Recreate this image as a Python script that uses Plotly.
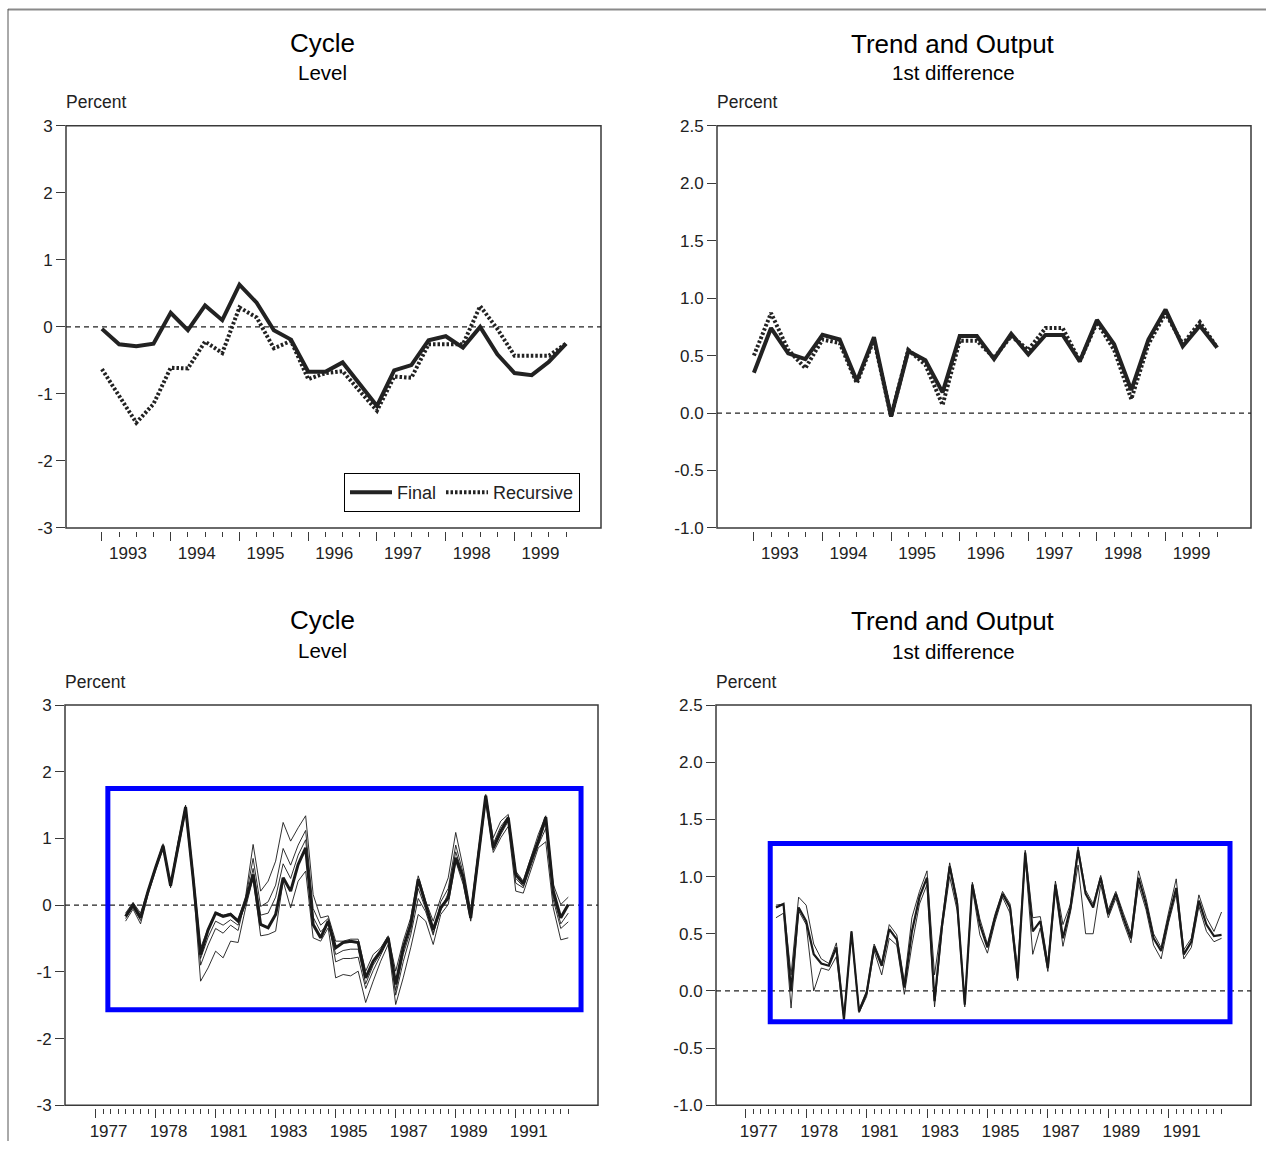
import plotly.graph_objects as go

# ---------------------------------------------------------------------------
# Data
# ---------------------------------------------------------------------------
TOP_YEARS = list(range(1993, 2000))          # 1993Q1 .. 1999Q4
BOTTOM_TICK_YEARS = list(range(1977, 1993))  # axis runs 1977Q1 .. 1992Q4
BOTTOM_DATA_YEARS = list(range(1978, 1993))  # estimates 1978Q1 .. 1992Q4

# Cycle, level (percent)
cycle_final = [-0.03, -0.26, -0.29, -0.25, 0.21, -0.05, 0.32, 0.10,
               0.63, 0.36, -0.05, -0.19, -0.67, -0.67, -0.53, -0.86,
               -1.18, -0.65, -0.57, -0.20, -0.14, -0.31, 0.00, -0.41,
               -0.69, -0.72, -0.52, -0.25]
cycle_recursive = [-0.63, -1.02, -1.43, -1.15, -0.61, -0.62, -0.22, -0.39,
                   0.29, 0.14, -0.32, -0.21, -0.78, -0.69, -0.66, -0.96,
                   -1.25, -0.74, -0.76, -0.26, -0.26, -0.26, 0.31, -0.03,
                   -0.43, -0.43, -0.43, -0.25]

# Trend and output, first difference (percent)
trend_final = [0.35, 0.74, 0.52, 0.47, 0.68, 0.64, 0.28, 0.66,
               -0.03, 0.54, 0.46, 0.18, 0.67, 0.67, 0.47, 0.69,
               0.51, 0.68, 0.68, 0.45, 0.81, 0.60, 0.20, 0.64,
               0.90, 0.58, 0.76, 0.57]
trend_recursive = [0.50, 0.87, 0.55, 0.39, 0.64, 0.61, 0.26, 0.64,
                   -0.03, 0.55, 0.42, 0.07, 0.63, 0.63, 0.48, 0.67,
                   0.55, 0.74, 0.74, 0.45, 0.79, 0.55, 0.12, 0.60,
                   0.87, 0.60, 0.79, 0.57]

# Cycle level across estimation vintages, 1978Q1 .. 1992Q4
cycle_vint_central = [-0.17, 0.00, -0.19, 0.21, 0.56, 0.89, 0.29, 0.91, 1.47, 0.41,
                      -0.74, -0.37, -0.12, -0.17, -0.14, -0.24, 0.06, 0.46, -0.29, -0.34,
                      -0.14, 0.41, 0.21, 0.61, 0.86, -0.29, -0.49, -0.24, -0.64, -0.56,
                      -0.54, -0.56, -1.09, -0.84, -0.69, -0.49, -1.19, -0.64, -0.29, 0.39,
                      0.01, -0.37, -0.04, 0.11, 0.71, 0.41, -0.19, 0.76, 1.64, 0.86,
                      1.11, 1.31, 0.46, 0.32, 0.66, 0.96, 1.32, 0.21, -0.19, 0.01]
cycle_vint_high = [-0.12, 0.04, -0.12, 0.24, 0.58, 0.92, 0.31, 0.95, 1.50, 0.50,
                   -0.64, -0.35, -0.10, -0.15, -0.12, -0.22, 0.13, 0.91, 0.21, 0.36,
                   0.66, 1.24, 0.96, 1.16, 1.34, 0.16, -0.19, -0.16, -0.54, -0.54,
                   -0.51, -0.51, -0.99, -0.74, -0.64, -0.46, -0.99, -0.54, -0.19, 0.44,
                   0.06, -0.24, 0.11, 0.41, 1.09, 0.56, -0.09, 0.81, 1.66, 1.01,
                   1.26, 1.36, 0.51, 0.36, 0.71, 1.06, 1.34, 0.31, 0.01, 0.12]
cycle_vint_upper_mid = [-0.14, 0.02, -0.15, 0.22, 0.57, 0.90, 0.30, 0.93, 1.48, 0.45,
                        -0.90, -0.60, -0.35, -0.42, -0.30, -0.38, 0.10, 0.70, -0.02, 0.05,
                        0.30, 0.85, 0.60, 0.90, 1.12, -0.05, -0.30, -0.20, -0.85, -0.80,
                        -0.80, -0.78, -1.25, -0.98, -0.75, -0.52, -1.35, -0.85, -0.45, 0.10,
                        -0.10, -0.45, 0.05, 0.25, 0.90, 0.48, -0.14, 0.79, 1.60, 0.92,
                        1.18, 1.33, 0.33, 0.26, 0.58, 0.90, 1.15, 0.08, -0.35, -0.25]
cycle_vint_lower_mid = [-0.20, -0.03, -0.23, 0.19, 0.54, 0.87, 0.28, 0.89, 1.44, 0.38,
                        -0.80, -0.48, -0.24, -0.30, -0.22, -0.30, 0.02, 0.55, -0.15, -0.12,
                        0.12, 0.62, 0.40, 0.75, 0.98, -0.18, -0.40, -0.28, -0.74, -0.68,
                        -0.66, -0.66, -1.18, -0.90, -0.72, -0.50, -1.28, -0.74, -0.38, 0.25,
                        -0.06, -0.42, -0.08, 0.18, 0.80, 0.44, -0.21, 0.72, 1.62, 0.83,
                        1.06, 1.26, 0.40, 0.28, 0.62, 0.92, 1.24, 0.14, -0.28, -0.12]
cycle_vint_low = [-0.24, -0.06, -0.28, 0.16, 0.52, 0.85, 0.26, 0.86, 1.40, 0.35,
                  -1.14, -0.94, -0.69, -0.79, -0.54, -0.56, -0.04, 0.41, -0.46, -0.44,
                  -0.39, 0.36, -0.04, 0.36, 0.51, -0.49, -0.54, -0.34, -1.09, -1.04,
                  -1.06, -0.99, -1.46, -1.14, -0.84, -0.59, -1.49, -1.09, -0.64, -0.14,
                  -0.24, -0.59, -0.14, 0.01, 0.66, 0.31, -0.24, 0.66, 1.56, 0.79,
                  1.01, 1.18, 0.21, 0.18, 0.51, 0.86, 0.95, -0.04, -0.52, -0.49]

# Trend and output growth across estimation vintages, 1978Q1 .. 1992Q4
trend_vint_central = [0.73, 0.76, 0.00, 0.73, 0.61, 0.32, 0.24, 0.22, 0.38, -0.25,
                      0.52, -0.18, -0.02, 0.39, 0.22, 0.54, 0.45, 0.03, 0.52, 0.82,
                      0.99, -0.09, 0.58, 1.09, 0.76, -0.12, 0.93, 0.58, 0.38, 0.64,
                      0.85, 0.73, 0.11, 1.21, 0.52, 0.61, 0.20, 0.93, 0.46, 0.73,
                      1.23, 0.85, 0.73, 0.99, 0.67, 0.85, 0.64, 0.46, 0.99, 0.76,
                      0.46, 0.35, 0.64, 0.90, 0.32, 0.43, 0.79, 0.58, 0.48, 0.49]
trend_vint_high = [0.75, 0.76, 0.14, 0.82, 0.75, 0.41, 0.28, 0.24, 0.42, -0.22,
                   0.52, -0.16, 0.00, 0.41, 0.25, 0.58, 0.49, 0.08, 0.64, 0.87,
                   1.05, 0.14, 0.62, 1.12, 0.80, -0.10, 0.95, 0.63, 0.41, 0.67,
                   0.87, 0.76, 0.20, 1.23, 0.64, 0.65, 0.25, 0.96, 0.58, 0.76,
                   1.26, 0.88, 0.76, 1.01, 0.71, 0.87, 0.68, 0.50, 1.05, 0.81,
                   0.50, 0.38, 0.69, 0.98, 0.36, 0.46, 0.84, 0.64, 0.52, 0.69]
trend_vint_low = [0.64, 0.68, -0.15, 0.70, 0.58, 0.00, 0.20, 0.18, 0.30, -0.25,
                  0.50, -0.19, -0.05, 0.35, 0.14, 0.46, 0.40, -0.03, 0.40, 0.76,
                  0.93, -0.14, 0.54, 1.00, 0.70, -0.14, 0.90, 0.49, 0.33, 0.60,
                  0.82, 0.68, 0.09, 1.17, 0.32, 0.55, 0.17, 0.88, 0.39, 0.69,
                  1.10, 0.50, 0.50, 0.93, 0.64, 0.81, 0.60, 0.42, 0.93, 0.71,
                  0.40, 0.28, 0.60, 0.85, 0.28, 0.38, 0.74, 0.52, 0.43, 0.46]

# Tick labels
TOP_TICK_LABELS = [str(y) for y in TOP_YEARS]
BOTTOM_TICK_LABELS = ["1977", "1978", "1981", "1983", "1985", "1987", "1989", "1991"]
CYCLE_Y_TICKS = [-3, -2, -1, 0, 1, 2, 3]
CYCLE_Y_LABELS = ["-3", "-2", "-1", "0", "1", "2", "3"]
TREND_Y_TICKS = [-1.0, -0.5, 0.0, 0.5, 1.0, 1.5, 2.0, 2.5]
TREND_Y_LABELS = ["-1.0", "-0.5", "0.0", "0.5", "1.0", "1.5", "2.0", "2.5"]

# ---------------------------------------------------------------------------
# Layout helpers
# ---------------------------------------------------------------------------
W, H = 1266, 1151
FONT = "Liberation Sans, Arial, Helvetica, sans-serif"
INK = "#222222"
FRAME = "#3a3a3a"

# the page sits below the default body margin and is fitted back into the
# window height, so vertical placements are given in on-screen pixels
PAGE_TOP = 8.3
PAGE_SCALE = 0.983


def fx(p):
    return p / W


def fy(p):
    return 1 - ((p - PAGE_TOP) / PAGE_SCALE) / H


def quarters(years):
    return [y + q / 4 for y in years for q in range(4)]


top_x = quarters(TOP_YEARS)
bottom_x = quarters(BOTTOM_DATA_YEARS)

fig = go.Figure()

# Top-left: cycle level, final vs recursive
fig.add_trace(go.Scatter(x=top_x, y=cycle_final, name="Final", mode="lines",
                         line=dict(color=INK, width=4), xaxis="x", yaxis="y"))
fig.add_trace(go.Scatter(x=top_x, y=cycle_recursive, name="Recursive", mode="lines",
                         line=dict(color=INK, width=4, dash="2.5px,2px"),
                         xaxis="x", yaxis="y"))

# Top-right: trend and output growth, final vs recursive
fig.add_trace(go.Scatter(x=top_x, y=trend_recursive, mode="lines", showlegend=False,
                         line=dict(color=INK, width=4, dash="2.5px,2px"),
                         xaxis="x2", yaxis="y2"))
fig.add_trace(go.Scatter(x=top_x, y=trend_final, mode="lines", showlegend=False,
                         line=dict(color=INK, width=4), xaxis="x2", yaxis="y2"))

# Bottom-left: bundle of cycle estimates
for series, w in [(cycle_vint_high, 0.9), (cycle_vint_upper_mid, 0.9),
                  (cycle_vint_lower_mid, 0.9), (cycle_vint_low, 0.9),
                  (cycle_vint_central, 3.0)]:
    fig.add_trace(go.Scatter(x=bottom_x, y=series, mode="lines", showlegend=False,
                             line=dict(color="#1a1a1a", width=w),
                             xaxis="x3", yaxis="y3"))

# Bottom-right: bundle of trend growth estimates
for series, w in [(trend_vint_high, 0.9), (trend_vint_low, 0.9),
                  (trend_vint_central, 2.2)]:
    fig.add_trace(go.Scatter(x=bottom_x, y=series, mode="lines", showlegend=False,
                             line=dict(color="#1a1a1a", width=w),
                             xaxis="x4", yaxis="y4"))

# ---------------------------------------------------------------------------
# Axes
# ---------------------------------------------------------------------------
bottom_text = []
for i, y in enumerate(BOTTOM_TICK_YEARS):
    bottom_text.append(BOTTOM_TICK_LABELS[i // 2] if i % 2 == 0 else "")

panels = {
    # frame px (left, right, top, bottom), x range, y range, y ticks, y labels
    1: (66, 601, 125, 527, [1992.4775, 2000.2575], [-3, 3], CYCLE_Y_TICKS, CYCLE_Y_LABELS),
    2: (717, 1251, 125, 527, [1992.4625, 2000.245], [-1.0, 2.5], TREND_Y_TICKS, TREND_Y_LABELS),
    3: (65, 598, 704, 1104, [1975.9825, 1993.74], [-3, 3], CYCLE_Y_TICKS, CYCLE_Y_LABELS),
    4: (716, 1251, 704, 1104, [1976.015, 1993.725], [-1.0, 2.5], TREND_Y_TICKS, TREND_Y_LABELS),
}

tick_font = dict(family=FONT, size=17, color=INK)
layout_axes = {}
shapes = []

for k, (l, r, t, b, xr, yr, yt, ylab) in panels.items():
    sx = "" if k == 1 else str(k)
    top_panel = k in (1, 2)
    tick_years = TOP_YEARS if top_panel else BOTTOM_TICK_YEARS
    tick_text = TOP_TICK_LABELS if top_panel else bottom_text
    px_per_year = (r - l) / (xr[1] - xr[0])
    label_offset = 0.375 if top_panel else 0.43

    layout_axes["xaxis" + sx] = dict(
        domain=[fx(l), fx(r)], range=xr, anchor="free", position=fy(b + 3),
        showline=False, showgrid=False, zeroline=False,
        tickmode="array", tickvals=tick_years, ticktext=tick_text,
        ticks="outside", ticklen=9, tickwidth=1.3, tickcolor=FRAME,
        tickfont=tick_font, ticklabelshift=int(round(label_offset * px_per_year)),
        ticklabelstandoff=-2,
        minor=dict(tickmode="array", tickvals=quarters(tick_years), ticks="outside",
                   ticklen=5, tickwidth=1.1, tickcolor=FRAME, showgrid=False),
    )
    layout_axes["yaxis" + sx] = dict(
        domain=[fy(b), fy(t)], range=yr, anchor="x" + sx,
        showline=False, showgrid=False, zeroline=False,
        tickmode="array", tickvals=yt, ticktext=ylab,
        ticks="outside", ticklen=9, tickwidth=1.3, tickcolor=FRAME,
        tickfont=tick_font,
    )
    # plot frame
    shapes.append(dict(type="rect", xref="x" + sx + " domain", yref="y" + sx + " domain",
                       x0=0, x1=1, y0=0, y1=1, line=dict(color=FRAME, width=1.5),
                       layer="above"))
    # zero reference line
    shapes.append(dict(type="line", xref="x" + sx + " domain", yref="y" + sx,
                       x0=0, x1=1, y0=0, y1=0,
                       line=dict(color=INK, width=1.2, dash="5px,4px")))

# highlighted regions on the vintage panels
shapes.append(dict(type="rect", xref="x3", yref="y3", x0=1977.41, x1=1993.175,
                   y0=-1.57, y1=1.75, line=dict(color="#0000ff", width=5)))
shapes.append(dict(type="rect", xref="x4", yref="y4", x0=1977.81, x1=1993.03,
                   y0=-0.27, y1=1.29, line=dict(color="#0000ff", width=5)))

# page border lines
shapes.append(dict(type="line", xref="paper", yref="paper", x0=fx(8), x1=1,
                   y0=0.9995, y1=0.9995, line=dict(color="#8a8a8a", width=2)))
shapes.append(dict(type="line", xref="paper", yref="paper", x0=fx(8), x1=fx(8),
                   y0=1, y1=0, line=dict(color="#555555", width=1)))

# ---------------------------------------------------------------------------
# Titles and unit labels
# ---------------------------------------------------------------------------
annotations = []
titles = [
    (322, 42, "Cycle", 26), (322, 72, "Level", 20.5),
    (953, 43, "Trend and Output", 26), (953, 72, "1st difference", 20.5),
    (322, 619, "Cycle", 26), (322, 649, "Level", 20.5),
    (953, 620, "Trend and Output", 26), (953, 650, "1st difference", 20.5),
]
for cx, cy, text, size in titles:
    annotations.append(dict(x=fx(cx), y=fy(cy), xref="paper", yref="paper",
                            text=text, showarrow=False, xanchor="center",
                            yanchor="middle",
                            font=dict(family=FONT, size=size, color="#000000")))
for lx, ly in [(66, 101), (717, 101), (65, 681), (716, 681)]:
    annotations.append(dict(x=fx(lx - 2), y=fy(ly), xref="paper", yref="paper",
                            text="Percent", showarrow=False, xanchor="left",
                            yanchor="middle",
                            font=dict(family=FONT, size=17.5, color=INK)))

fig.update_layout(
    width=W, height=H, margin=dict(l=0, r=0, t=0, b=0),
    paper_bgcolor="white", plot_bgcolor="white",
    font=dict(family=FONT, color=INK),
    showlegend=True,
    legend=dict(orientation="h", x=fx(580), y=fy(472), xanchor="right", yanchor="top",
                bgcolor="white", bordercolor="#000000", borderwidth=1,
                font=dict(family=FONT, size=18, color=INK), itemwidth=42,
                tracegroupgap=0),
    shapes=shapes, annotations=annotations,
    **layout_axes,
)

fig.write_html("out.html")
